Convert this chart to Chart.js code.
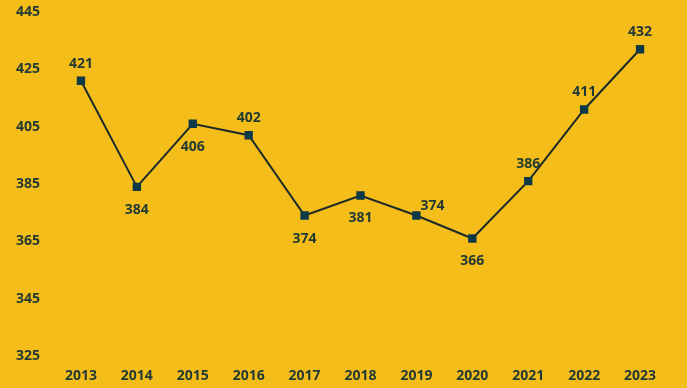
<!DOCTYPE html>
<html>
<head>
<meta charset="utf-8">
<script src="https://cdn.jsdelivr.net/npm/chart.js@4"></script>
<style>
  html, body { margin: 0; padding: 0; background: #F5BD1A; }
  #wrap { width: 687px; height: 388px; }
</style>
</head>
<body>
<div id="wrap"><canvas id="myChart"></canvas></div>
<script>
const years = ["2013", "2014", "2015", "2016", "2017", "2018", "2019", "2020", "2021", "2022", "2023"];
const values = [421, 384, 406, 402, 374, 381, 374, 366, 386, 411, 432];
// where each value label sits relative to its point
const labelSide = ["top", "bottom", "bottom", "top", "bottom", "bottom", "topRight", "bottom", "top", "top", "top"];

const textColor = "#233a33";

const pointLabels = {
  id: "pointLabels",
  afterDatasetsDraw(chart) {
    const c = chart.ctx;
    const meta = chart.getDatasetMeta(0);
    c.save();
    c.font = "bold 14px 'Open Sans'";
    c.fillStyle = textColor;
    c.textAlign = "center";
    c.textBaseline = "middle";
    meta.data.forEach((pt, i) => {
      let x = pt.x, y = pt.y;
      if (labelSide[i] === "top") y -= 17;
      else if (labelSide[i] === "bottom") y += 23;
      else { x += 16; y -= 10; }
      c.fillText(values[i], x, y);
    });
    c.restore();
  },
};

const ctx = document.getElementById("myChart");

new Chart(ctx, {
  type: "line",
  data: {
    labels: years,
    datasets: [
      {
        data: values,
        borderColor: "#1c2a2a",
        borderWidth: 2,
        pointStyle: "rect",
        pointRadius: 4.5,
        pointBackgroundColor: "#0e3a48",
        pointBorderColor: "#0e3a48",
        tension: 0,
      },
    ],
  },
  options: {
    responsive: true,
    maintainAspectRatio: false,
    animation: false,
    layout: { padding: { top: 12, right: 19, left: 0, bottom: 0 } },
    scales: {
      x: {
        offset: true,
        afterFit: (axis) => { axis.height = 32; axis.paddingLeft = 0; axis.paddingRight = 0; },
        grid: { display: false, drawTicks: false },
        border: { display: false },
        ticks: { color: textColor, font: { family: "Open Sans", size: 14, weight: "bold" }, padding: 12 },
      },
      y: {
        min: 325,
        max: 445,
        afterFit: (axis) => { axis.width = 53; axis.paddingTop = 0; axis.paddingBottom = 0; },
        grid: { display: false, drawTicks: false },
        border: { display: false },
        ticks: { stepSize: 20, color: textColor, font: { family: "Open Sans", size: 14, weight: "bold" }, padding: 13 },
      },
    },
    plugins: {
      legend: { display: false },
      tooltip: { enabled: false },
    },
  },
  plugins: [pointLabels],
});
</script>
</body>
</html>
